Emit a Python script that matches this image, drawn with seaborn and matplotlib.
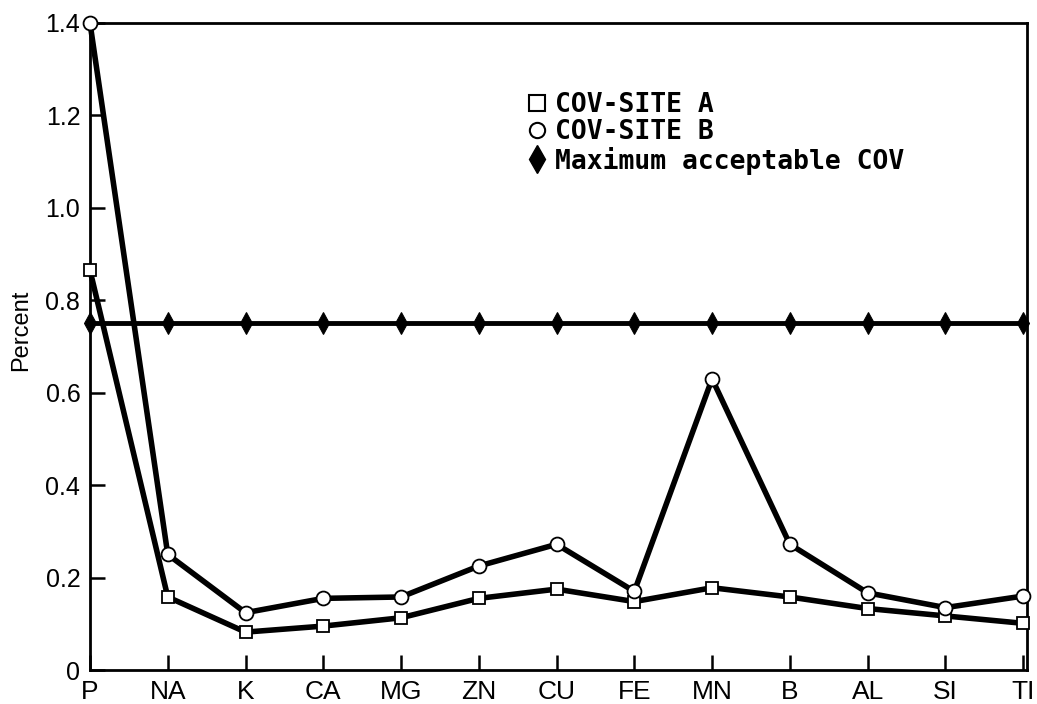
import numpy as np
import pandas as pd
import matplotlib
matplotlib.use("Agg")
import matplotlib.pyplot as plt
from matplotlib.lines import Line2D
import seaborn as sns

elements = ["P", "NA", "K", "CA", "MG", "ZN", "CU", "FE", "MN", "B", "AL", "SI", "TI"]
site_a = [0.865, 0.158, 0.082, 0.095, 0.113, 0.155, 0.175, 0.148, 0.178, 0.158, 0.133, 0.117, 0.101]
site_b = [1.40, 0.250, 0.124, 0.155, 0.158, 0.225, 0.272, 0.170, 0.630, 0.272, 0.167, 0.135, 0.160]
max_cov = [0.75] * len(elements)
y_ticks = [0, 0.2, 0.4, 0.6, 0.8, 1.0, 1.2, 1.4]
y_tick_labels = ["0", "0.2", "0.4", "0.6", "0.8", "1.0", "1.2", "1.4"]

sns.set_style("ticks")
plt.rcParams["font.family"] = ["Liberation Sans", "DejaVu Sans"]
plt.rcParams["text.color"] = "black"
plt.rcParams["axes.labelcolor"] = "black"

pos = np.arange(len(elements))
df = pd.DataFrame({"pos": pos, "A": site_a, "B": site_b, "M": max_cov})

fig = plt.figure(figsize=(10.37, 7.04), dpi=100)
ax = fig.add_axes([90 / 1037, 34 / 704, 937 / 1037, 647 / 704])

sns.lineplot(data=df, x="pos", y="M", ax=ax, color="black", lw=3.5,
             marker="d", markersize=11, markerfacecolor="black",
             markeredgecolor="black", zorder=2, clip_on=False)
sns.lineplot(data=df, x="pos", y="A", ax=ax, color="black", lw=4,
             marker="s", markersize=9, markerfacecolor="white",
             markeredgecolor="black", markeredgewidth=1.3, zorder=3, clip_on=False)
sns.lineplot(data=df, x="pos", y="B", ax=ax, color="black", lw=4,
             marker="o", markersize=10, markerfacecolor="white",
             markeredgecolor="black", markeredgewidth=1.3, zorder=4, clip_on=False)

ax.set_xlim(0, 12.05)
ax.set_ylim(0, 1.4)
ax.set_xticks(pos)
ax.set_xticklabels(elements, fontsize=19)
ax.set_yticks(y_ticks)
ax.set_yticklabels(y_tick_labels, fontsize=18)
ax.set_xlabel("")
ax.set_ylabel("Percent", fontsize=17)
ax.yaxis.set_label_coords(-0.062, 0.525)
ax.tick_params(axis="both", direction="in", length=11, width=1.8, colors="black")
ax.tick_params(axis="x", pad=7)
ax.tick_params(axis="y", pad=7)
for s in ax.spines.values():
    s.set_linewidth(2)
    s.set_color("black")

handles = [
    Line2D([], [], ls="none", marker="s", markersize=11, markerfacecolor="white",
           markeredgecolor="black", markeredgewidth=1.5),
    Line2D([], [], ls="none", marker="o", markersize=11, markerfacecolor="white",
           markeredgecolor="black", markeredgewidth=1.5),
    Line2D([], [], ls="none", marker="d", markersize=14, markerfacecolor="black",
           markeredgecolor="black"),
]
leg = ax.legend(handles, ["COV-SITE A", "COV-SITE B", "Maximum acceptable COV"],
                loc="upper left", bbox_to_anchor=(0.44, 0.93), frameon=False,
                handlelength=0.8, handletextpad=0.3, labelspacing=0.05,
                prop={"family": ["DejaVu Sans Mono"], "weight": "bold", "size": 19})

fig.savefig("out.png", dpi=100)
